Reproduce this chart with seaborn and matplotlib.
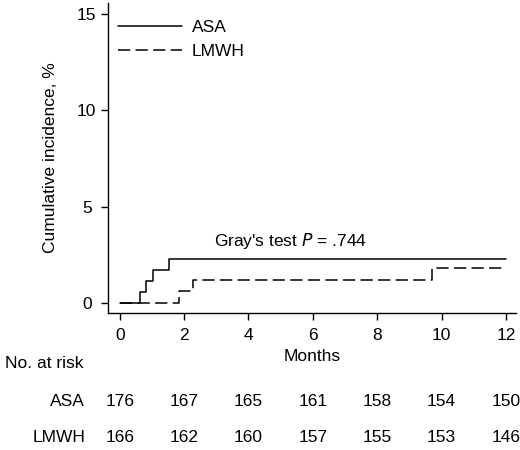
import matplotlib
matplotlib.use("Agg")
import matplotlib.pyplot as plt
import matplotlib.transforms as mtransforms
import seaborn as sns
import pandas as pd

# data
asa_months = [0, 0.63, 0.83, 1.02, 1.52, 12]
asa_cuminc = [0, 0.57, 1.14, 1.70, 2.27, 2.27]
lmwh_months = [0, 1.85, 2.27, 9.72, 12]
lmwh_cuminc = [0, 0.60, 1.20, 1.81, 1.81]

risk_months = [0, 2, 4, 6, 8, 10, 12]
asa_at_risk = [176, 167, 165, 161, 158, 154, 150]
lmwh_at_risk = [166, 162, 160, 157, 155, 153, 146]

sns.set_theme(style="ticks")
plt.rcParams['font.family'] = ['Liberation Sans', 'DejaVu Sans']
plt.rcParams['text.color'] = 'black'
plt.rcParams['axes.labelcolor'] = 'black'
FS = 12.5

fig = plt.figure(figsize=(5.2, 4.5), dpi=100)
ax = fig.add_axes([0.207, 0.305, 0.785, 0.688])

df_asa = pd.DataFrame({'m': asa_months, 'ci': asa_cuminc})
df_lmwh = pd.DataFrame({'m': lmwh_months, 'ci': lmwh_cuminc})

sns.lineplot(data=df_asa, x='m', y='ci', drawstyle='steps-post', estimator=None,
             color='black', linewidth=1.1, ax=ax, label='ASA')
sns.lineplot(data=df_lmwh, x='m', y='ci', drawstyle='steps-post', estimator=None,
             color='black', linewidth=1.1, dashes=False, ax=ax, label='LMWH')
ax.lines[1].set_dashes((8, 3.5))

ax.set_xlim(-0.375, 12.31)
ax.set_ylim(-0.52, 15.57)
ax.set_xticks(risk_months)
ax.set_yticks([0, 5, 10, 15])
ax.tick_params(axis='both', direction='out', length=5, width=1, color='black',
               labelsize=FS, labelcolor='black')
ax.tick_params(axis='y', pad=10)
ax.tick_params(axis='x', pad=6)
for lab in ax.get_yticklabels():
    lab.set_horizontalalignment('center')

ax.set_xlabel('Months', fontsize=FS, color='black', labelpad=4)
ax.set_ylabel('Cumulative incidence, %', fontsize=FS, color='black', labelpad=14)

for side in ['left', 'bottom']:
    ax.spines[side].set_color('black')
    ax.spines[side].set_linewidth(1)
sns.despine(ax=ax)

leg = ax.legend(loc='upper left', frameon=False, fontsize=FS, handlelength=3.7,
                handletextpad=0.55, labelspacing=0.5, borderaxespad=0.2,
                bbox_to_anchor=(0.0, 0.98))
for t in leg.get_texts():
    t.set_color('black')

ax.text(5.3, 3.2, "Gray's test $\\it{P}$ = .744", fontsize=FS, ha='center', va='center')

# number at risk table
trans = mtransforms.blended_transform_factory(ax.transData, fig.transFigure)
fig.text(0.01, 1 - 363 / 450, 'No. at risk', fontsize=FS, ha='left', va='center')
fig.text(85 / 520, 1 - 401 / 450, 'ASA', fontsize=FS, ha='right', va='center')
fig.text(85 / 520, 1 - 438 / 450, 'LMWH', fontsize=FS, ha='right', va='center')
for m, a, l in zip(risk_months, asa_at_risk, lmwh_at_risk):
    ax.text(m, 1 - 401 / 450, str(a), transform=trans, fontsize=FS, ha='center', va='center')
    ax.text(m, 1 - 438 / 450, str(l), transform=trans, fontsize=FS, ha='center', va='center')

fig.savefig('out.png', dpi=100)
